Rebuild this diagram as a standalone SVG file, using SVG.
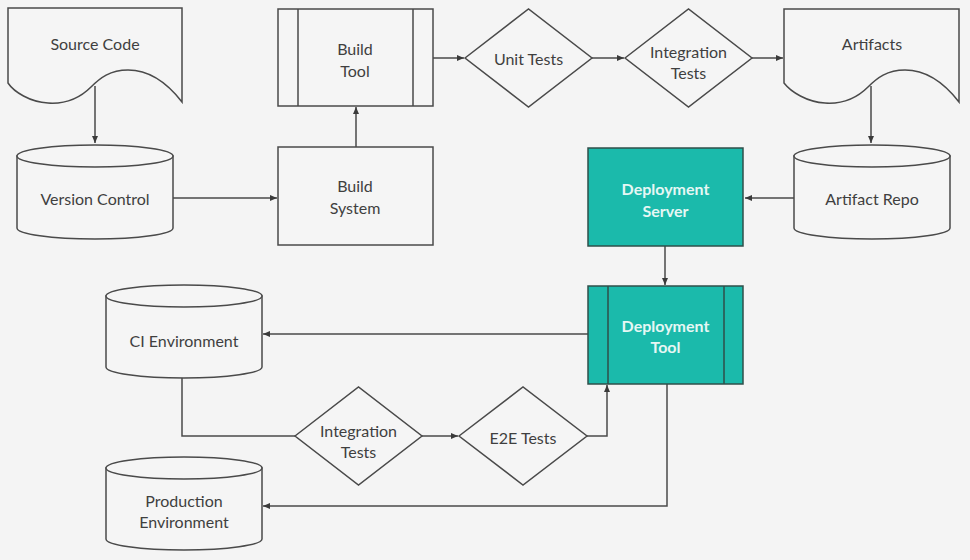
<svg xmlns="http://www.w3.org/2000/svg" width="970" height="560" viewBox="0 0 970 560">
<defs>
<style>
.s{fill:#f5f5f5;stroke:#4a4a4a;stroke-width:1.5}
.t{fill:#1bbaab;stroke:#2f4f4a;stroke-width:1.5}
.c{fill:none;stroke:#4a4a4a;stroke-width:1.5}
text{font-family:Lato,"Open Sans","Liberation Sans",sans-serif;font-size:16px;fill:#3f3f3f;text-anchor:middle;dominant-baseline:central}
.w{fill:#e6f7f4;font-weight:bold}
</style>
<marker id="a" markerWidth="8" markerHeight="8" refX="7" refY="4" orient="auto" markerUnits="userSpaceOnUse">
<path d="M0,1 L7,4 L0,7 Z" fill="#3a3a3a"/>
</marker>
</defs>
<rect width="970" height="560" fill="#f4f4f4"/>
<g id="connectors" class="c">
<path d="M95,86 V143" marker-end="url(#a)"/>
<path d="M173,198 H277" marker-end="url(#a)"/>
<path d="M356,147 V107" marker-end="url(#a)"/>
<path d="M433,58 H464" marker-end="url(#a)"/>
<path d="M592,58 H624" marker-end="url(#a)"/>
<path d="M752,58 H783" marker-end="url(#a)"/>
<path d="M871,86 V143" marker-end="url(#a)"/>
<path d="M794,198 H745" marker-end="url(#a)"/>
<path d="M665,246 V285" marker-end="url(#a)"/>
<path d="M588,334 H263" marker-end="url(#a)"/>
<path d="M182,378 V436 H295"/>
<path d="M422,436 H458" marker-end="url(#a)"/>
<path d="M587,436 H607 V385" marker-end="url(#a)"/>
<path d="M667,384 V506 H263" marker-end="url(#a)"/>
</g>
<g id="source-code">
<path class="s" d="M8,8 H182 V102 C165,80 148,70 128,70 C110,70 100,78 91,87 C78,100 62,104 48,103 C30,102 14,92 8,83 Z"/>
<text x="95" y="43">Source Code</text>
</g>
<g id="version-control">
<path class="s" d="M17,156 V228 A78,11 0 0 0 173,228 V156 Z"/>
<ellipse class="s" cx="95" cy="156" rx="78" ry="11"/>
<text x="95" y="198">Version Control</text>
</g>
<g id="build-tool">
<rect class="s" x="278" y="9" width="155" height="97"/>
<path class="c" d="M298,9 V106 M413,9 V106"/>
<text x="355" y="48">Build</text>
<text x="355" y="70">Tool</text>
</g>
<g id="build-system">
<rect class="s" x="278" y="147" width="155" height="98"/>
<text x="355" y="185">Build</text>
<text x="355" y="207">System</text>
</g>
<g id="unit-tests">
<path class="s" d="M465,58 L528.5,9 L592,58 L528.5,107 Z"/>
<text x="528.5" y="58">Unit Tests</text>
</g>
<g id="integration-tests">
<path class="s" d="M625,58 L688.5,9 L752,58 L688.5,107 Z"/>
<text x="688.5" y="51">Integration</text>
<text x="688.5" y="72">Tests</text>
</g>
<g id="artifacts">
<path class="s" d="M784,9 H959 V102 C942,80 925,70 905,70 C887,70 877,78 868,87 C855,100 839,104 825,103 C807,102 791,92 784,83 Z"/>
<text x="872" y="43">Artifacts</text>
</g>
<g id="artifact-repo">
<path class="s" d="M794,156 V228 A78,11 0 0 0 950,228 V156 Z"/>
<ellipse class="s" cx="872" cy="156" rx="78" ry="11"/>
<text x="872" y="198">Artifact Repo</text>
</g>
<g id="deployment-server">
<rect class="t" x="588" y="148" width="155" height="98"/>
<text class="w" x="665.5" y="188">Deployment</text>
<text class="w" x="665.5" y="210">Server</text>
</g>
<g id="deployment-tool">
<rect class="t" x="588" y="286" width="155" height="98"/>
<path fill="none" stroke="#2f4f4a" stroke-width="1.5" d="M608,286 V384 M724,286 V384"/>
<text class="w" x="665.5" y="325">Deployment</text>
<text class="w" x="665.5" y="346">Tool</text>
</g>
<g id="ci-environment">
<path class="s" d="M106,296 V367 A78,11 0 0 0 262,367 V296 Z"/>
<ellipse class="s" cx="184" cy="296" rx="78" ry="11"/>
<text x="184" y="340">CI Environment</text>
</g>
<g id="integration-tests-2">
<path class="s" d="M295,436 L358.5,387 L422,436 L358.5,485 Z"/>
<text x="358.5" y="430">Integration</text>
<text x="358.5" y="451">Tests</text>
</g>
<g id="e2e-tests">
<path class="s" d="M459,436 L523,387 L587,436 L523,485 Z"/>
<text x="523" y="437">E2E Tests</text>
</g>
<g id="production-environment">
<path class="s" d="M106,468 V539 A78,11 0 0 0 262,539 V468 Z"/>
<ellipse class="s" cx="184" cy="468" rx="78" ry="11"/>
<text x="184" y="500">Production</text>
<text x="184" y="521">Environment</text>
</g>
</svg>
